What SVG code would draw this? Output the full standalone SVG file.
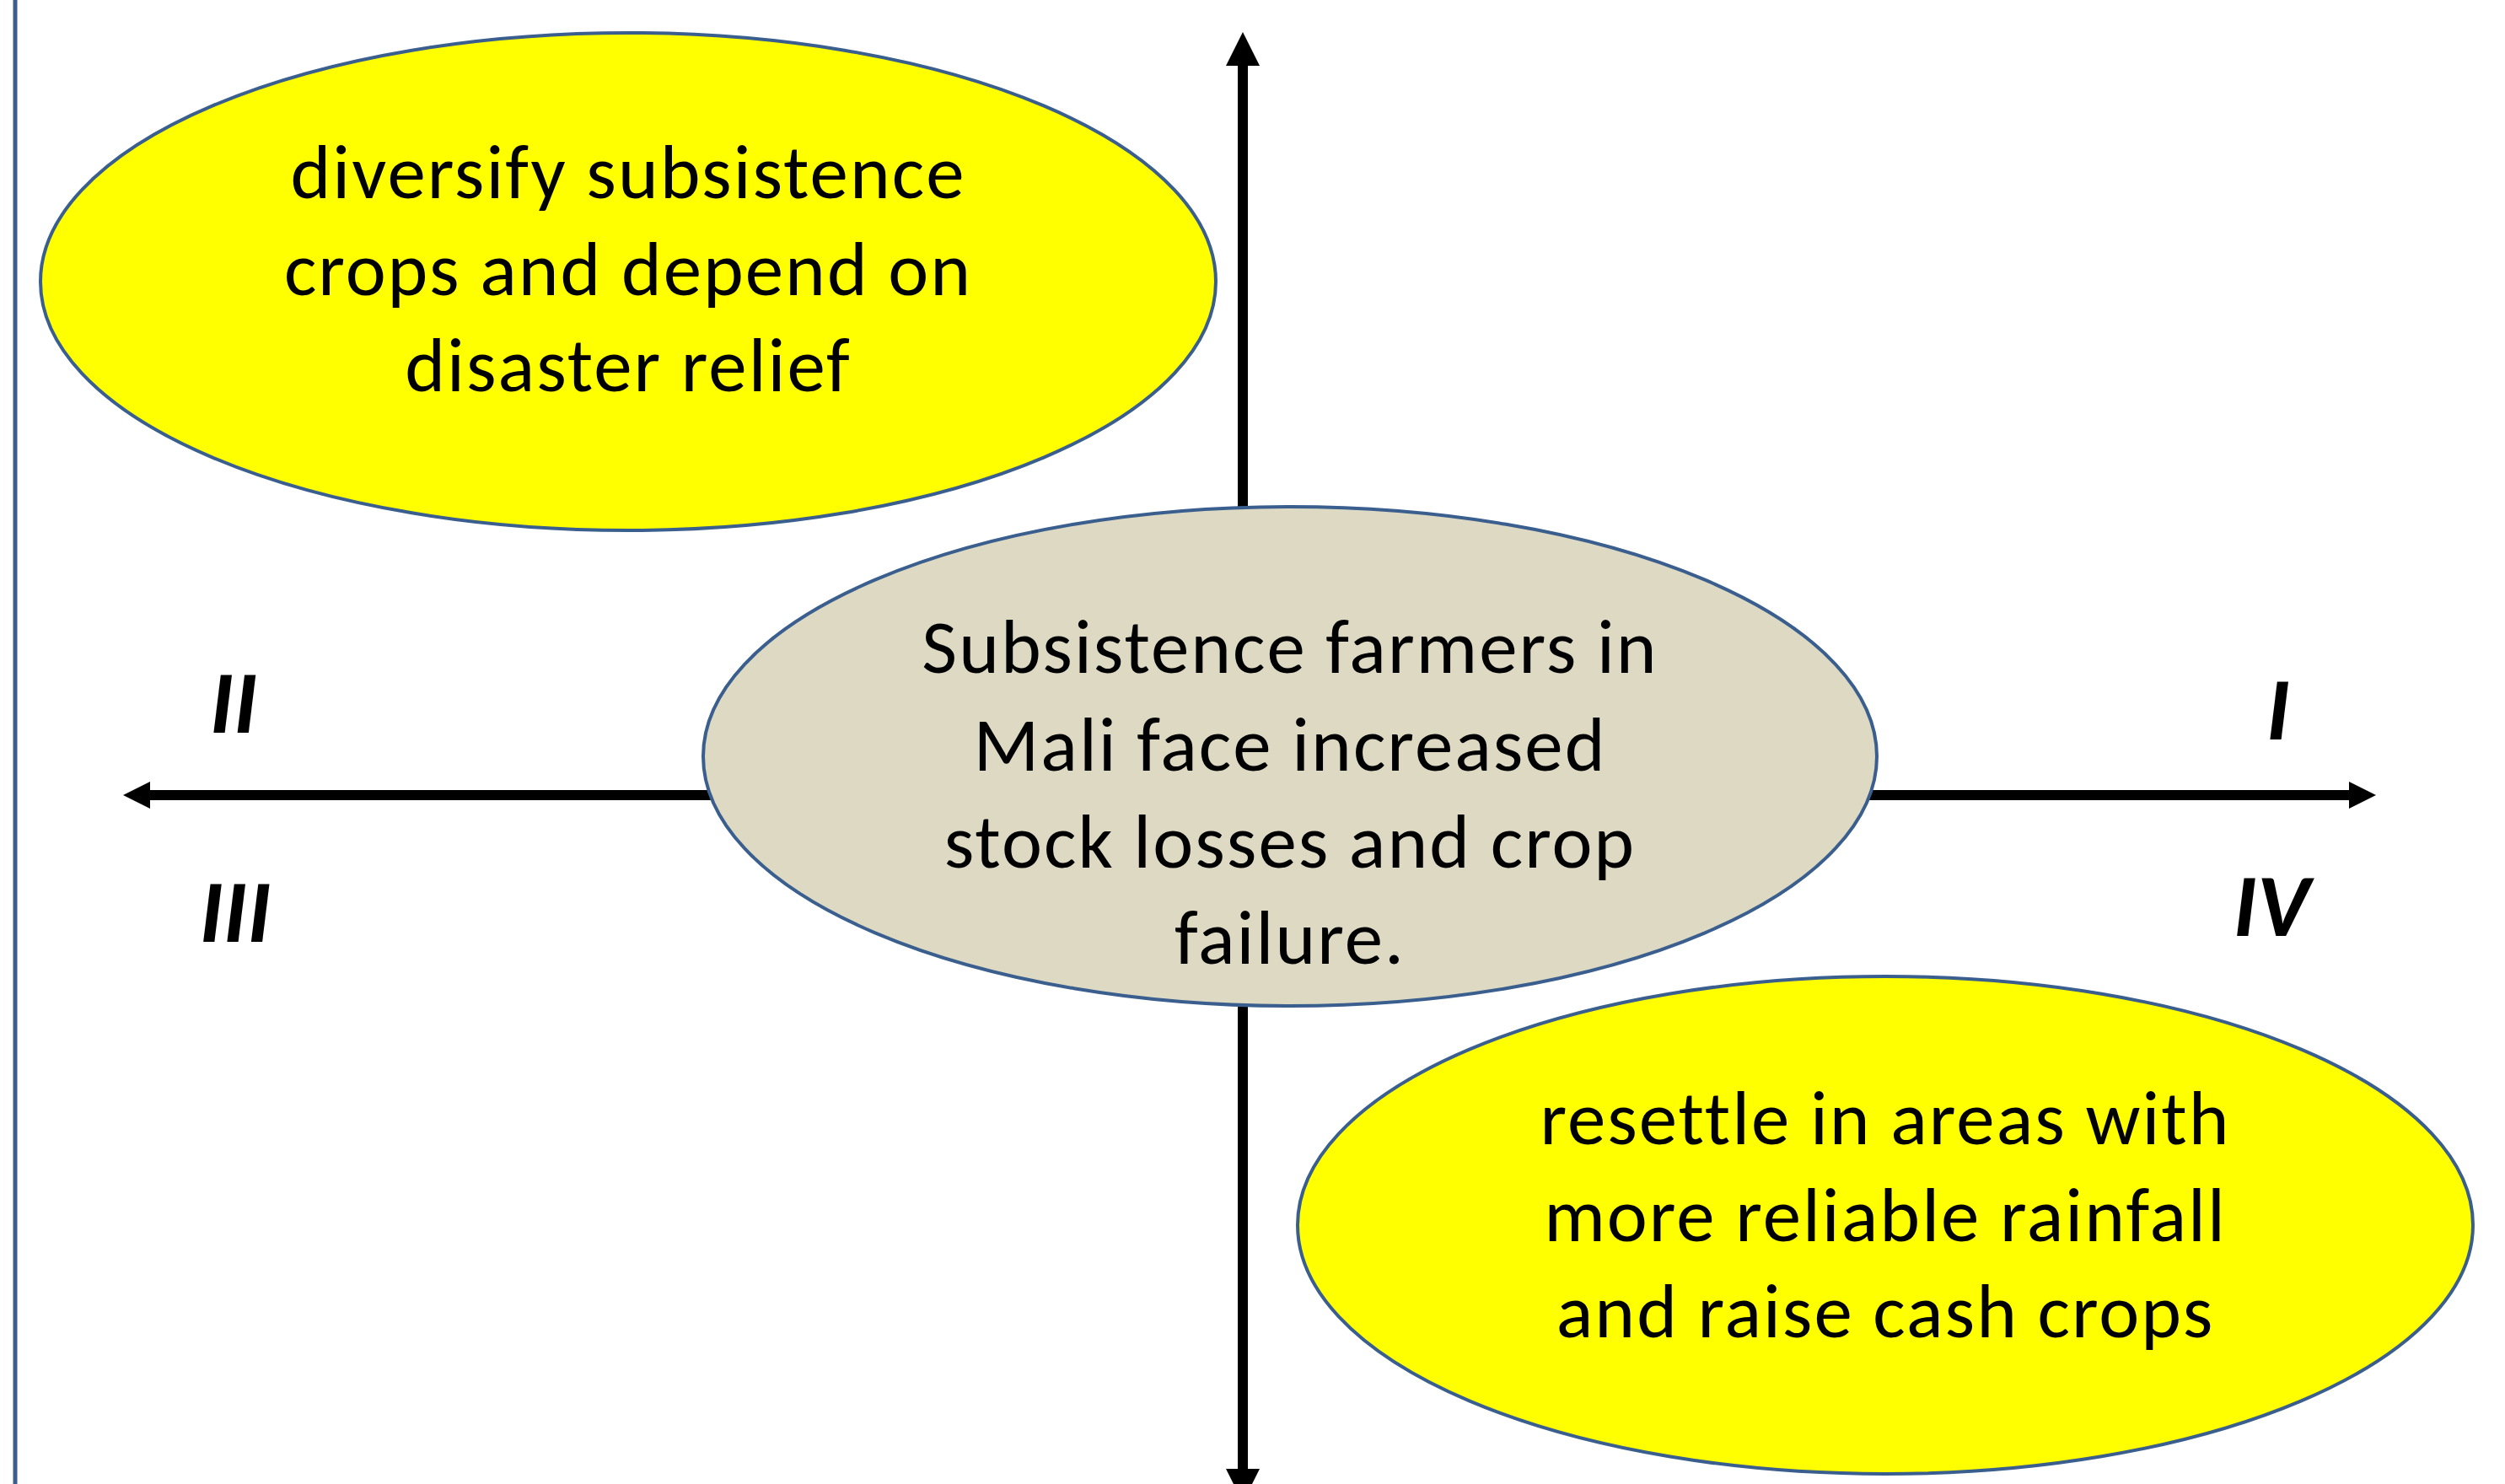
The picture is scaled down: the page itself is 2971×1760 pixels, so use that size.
<svg xmlns="http://www.w3.org/2000/svg" width="2971" height="1760" viewBox="0 0 2971 1760">
<defs>
<style>
.node ellipse{stroke:#3a5f8f;stroke-width:4}
.yel{fill:#ffff00}
.beige{fill:#ddd9c3}
.t{font-family:Carlito,Lato,"Liberation Sans",sans-serif;font-size:91px;letter-spacing:2px;fill:#000;text-anchor:middle}
.q{font-family:Carlito,Lato,"Liberation Sans",sans-serif;font-size:106px;font-weight:900;font-style:italic;fill:#000;text-anchor:middle}
.ax{stroke:#000;stroke-width:12;fill:none}
</style>
</defs>
<rect width="2971" height="1760" fill="#fff"/>
<line x1="18" y1="0" x2="18" y2="1760" stroke="#3a5f8f" stroke-width="5"/>
<g id="connectors">
<line class="ax" x1="1474" y1="76" x2="1474" y2="1760"/>
<polygon points="1474,38 1454,78 1494,78" fill="#000"/>
<polygon points="1474,1782 1454,1742 1494,1742" fill="#000"/>
<line class="ax" x1="176" y1="943" x2="2788" y2="943"/>
<polygon points="146,943 178,927 178,959" fill="#000"/>
<polygon points="2818,943 2786,927 2786,959" fill="#000"/>
</g>
<g id="label-I"><text class="q" x="2702" y="877">I</text></g>
<g id="label-II"><text class="q" x="277" y="869">II</text></g>
<g id="label-III"><text class="q" x="279" y="1117">III</text></g>
<g id="label-IV"><text class="q" x="2694" y="1110">IV</text></g>
<g id="node-top" class="node">
<ellipse class="yel" cx="745" cy="334" rx="697" ry="295"/>
<text class="t" x="745" y="235">diversify subsistence</text>
<text class="t" x="745" y="350">crops and depend on</text>
<text class="t" x="745" y="464">disaster relief</text>
</g>
<g id="node-center" class="node">
<ellipse class="beige" cx="1530" cy="897" rx="696" ry="296"/>
<text class="t" x="1530" y="798">Subsistence farmers in</text>
<text class="t" x="1530" y="914">Mali face increased</text>
<text class="t" x="1530" y="1029">stock losses and crop</text>
<text class="t" x="1530" y="1143">failure.</text>
</g>
<g id="node-bottom" class="node">
<ellipse class="yel" cx="2236" cy="1453" rx="697" ry="295"/>
<text class="t" x="2236" y="1357">resettle in areas with</text>
<text class="t" x="2236" y="1472">more reliable rainfall</text>
<text class="t" x="2236" y="1586">and raise cash crops</text>
</g>
</svg>
